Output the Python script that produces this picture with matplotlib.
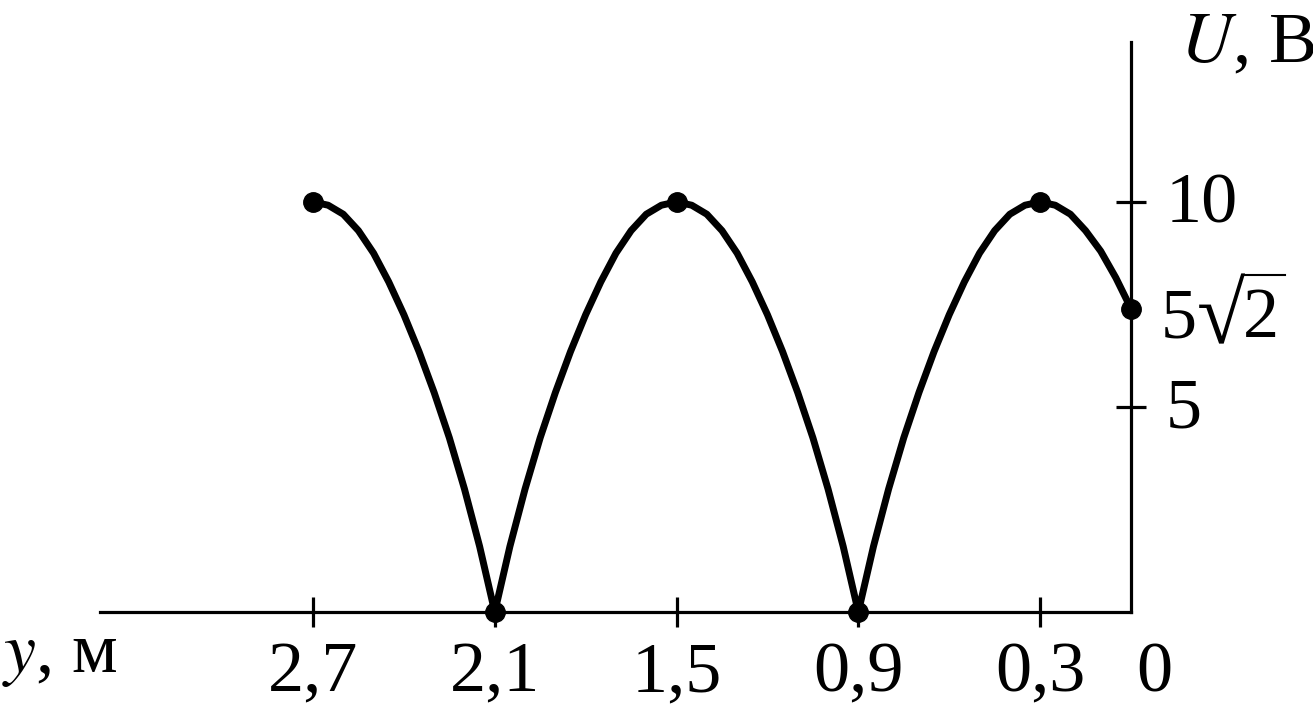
import matplotlib.pyplot as plt
from matplotlib.lines import Line2D
from matplotlib.textpath import TextPath
from matplotlib.font_manager import FontProperties

plt.rcParams['font.family'] = ['Liberation Serif', 'DejaVu Serif']
plt.rcParams['mathtext.fontset'] = 'stix'

# координата y, м  и  напряжение U, В (шаг 0.05 м)
y_m = [0.00, 0.05, 0.10, 0.15, 0.20, 0.25, 0.30, 0.35, 0.40, 0.45, 0.50,
       0.55, 0.60, 0.65, 0.70, 0.75, 0.80, 0.85, 0.90, 0.95, 1.00, 1.05,
       1.10, 1.15, 1.20, 1.25, 1.30, 1.35, 1.40, 1.45, 1.50, 1.55, 1.60,
       1.65, 1.70, 1.75, 1.80, 1.85, 1.90, 1.95, 2.00, 2.05, 2.10, 2.15,
       2.20, 2.25, 2.30, 2.35, 2.40, 2.45, 2.50, 2.55, 2.60, 2.65, 2.70]
u_v = [7.40, 8.15, 8.80, 9.30, 9.70, 9.92, 10.0, 9.92, 9.70, 9.30, 8.75,
       8.05, 7.25, 6.35, 5.35, 4.25, 3.00, 1.60, 0.00, 1.60, 3.00, 4.25,
       5.35, 6.35, 7.25, 8.05, 8.75, 9.30, 9.70, 9.92, 10.0, 9.92, 9.70,
       9.30, 8.75, 8.05, 7.25, 6.35, 5.35, 4.25, 3.00, 1.60, 0.00, 1.60,
       3.00, 4.25, 5.35, 6.35, 7.25, 8.05, 8.75, 9.30, 9.70, 9.92, 10.0]

# отмеченные точки
pts_y = [2.7, 2.1, 1.5, 0.9, 0.3, 0.0]
pts_u = [10, 0, 10, 0, 10, 7.4]

xticks = [2.7, 2.1, 1.5, 0.9, 0.3]
xtick_labels = ['2,7', '2,1', '1,5', '0,9', '0,3']
yticks = [10, 5]
ytick_labels = ['10', '5']

fs = 52
W, H = 1313, 710
fig = plt.figure(figsize=(W / 100, H / 100), dpi=100)
ax = fig.add_axes([100 / W, 98 / H, 1031 / W, 570 / H])
ax.set_xlim(3.403, 0)
ax.set_ylim(0, 13.9)

ax.plot(y_m, u_v, color='black', lw=5, solid_joinstyle='round',
        solid_capstyle='round', clip_on=False)
ax.plot(pts_y, pts_u, 'o', color='black', ms=14, clip_on=False)

for s in ['top', 'left']:
    ax.spines[s].set_visible(False)
for s in ['right', 'bottom']:
    ax.spines[s].set_linewidth(2.3)

ax.yaxis.tick_right()
ax.set_xticks(xticks)
ax.set_yticks(yticks)
ax.set_xticklabels([])
ax.set_yticklabels([])
ax.tick_params(direction='inout', length=21, width=2.3)

# подписи делений
for v, lab in zip(xticks, xtick_labels):
    ax.annotate(lab, xy=(v, 0), xycoords=('data', 'axes fraction'),
                xytext=(0, -57.5), textcoords='offset points',
                ha='center', va='baseline', fontsize=fs)
ax.annotate('0', xy=(0, 0), xycoords=('data', 'axes fraction'),
            xytext=(17, -57.5), textcoords='offset points',
            ha='center', va='baseline', fontsize=fs)
for v, lab in zip(yticks, ytick_labels):
    ax.annotate(lab, xy=(1, v), xycoords=('axes fraction', 'data'),
                xytext=(25, -14.5), textcoords='offset points',
                ha='left', va='baseline', fontsize=fs)

# 5√2 у точки y = 0 (пиксели, ось y экрана вверх)
px, py = ax.transData.transform((pts_y[-1], pts_u[-1]))
k = 100 / 72
fig.text((px + 30) / W, (py - 29) / H, '5', fontsize=fs, ha='left', va='baseline')
fig.text((px + 112) / W, (py - 28) / H, '2', fontsize=fs, ha='left', va='baseline')
fp = FontProperties(family='Liberation Serif')
ext = TextPath((0, 0), '√', size=10, prop=fp).get_extents()
fs_r = 70 / k / (ext.height / 10)          # высота знака корня ~70 px
s = fs_r / 10 * k
rx = px + 68 - ext.x0 * s
ry = py - 35 - ext.y0 * s
fig.text(rx / W, ry / H, '√', fontsize=fs_r, ha='left', va='baseline')
bar_y = py + 34
fig.add_artist(Line2D([rx + ext.x1 * s - 1.5, px + 154], [bar_y, bar_y],
                      transform=None, color='black', lw=1.5))

# подписи осей
fig.text(1180 / W, 1 - 62 / H, '$U$, В', fontsize=fs,
         ha='left', va='baseline')
fig.text(2 / W, 1 - 672 / H, '$y$, м', fontsize=fs,
         ha='left', va='baseline')

fig.savefig('out.png', dpi=100)
